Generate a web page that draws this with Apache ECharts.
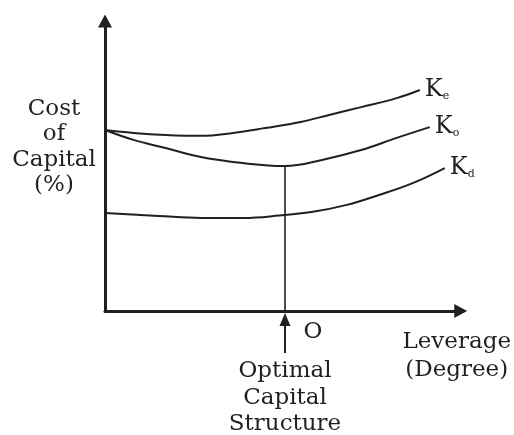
<!DOCTYPE html>
<html>
<head>
<meta charset="utf-8">
<script src="https://cdn.jsdelivr.net/npm/echarts@6/dist/echarts.min.js"></script>
<style>
  html, body { margin: 0; padding: 0; background: #fff; }
  #chart { width: 514px; height: 435px; }
</style>
</head>
<body>
<div id="chart"></div>
<script>
// schematic units: leverage 0-100, cost of capital 0-100
var keLeverage = [0, 8, 17, 27, 36, 45, 55, 63, 72, 82, 88.5];
var keCost = [62.4, 61.4, 60.7, 60.4, 61.4, 63.1, 65.2, 67.6, 70.3, 73.4, 76.2];

var koLeverage = [0, 8, 17, 27, 36, 45, 50.6, 61, 72, 82, 91.3];
var koCost = [62.4, 59, 56.2, 53.1, 51.4, 50.3, 50, 52.1, 55.5, 59.7, 63.4];

var kdLeverage = [0, 15, 27, 39, 49, 58, 68, 77, 86.5, 95.5];
var kdCost = [33.8, 32.8, 32.1, 32.1, 32.9, 34.1, 36.6, 40, 44.1, 49.3];

var optimalLeverage = 50.6;
var optimalCost = 50;

var ink = "#231f20";
var font = "DejaVu Serif";

function pairs(xs, ys) {
  return xs.map(function(x, i) {
    return [x, ys[i]];
  });
}

function curve(name, sub, xs, ys) {
  return {
    name: name,
    type: "line",
    data: pairs(xs, ys),
    smooth: 0.4,
    symbol: "none",
    lineStyle: { color: ink, width: 2 },
    endLabel: {
      show: true,
      distance: 5,
      formatter: "{k|K}{s|" + sub + "}",
      rich: {
        k: { fontFamily: font, fontSize: 24, lineHeight: 24, verticalAlign: "top", color: ink },
        s: { fontFamily: font, fontSize: 11, lineHeight: 10, padding: [19, 0, 0, 0], verticalAlign: "bottom", color: ink }
      }
    }
  };
}

var chart = echarts.init(document.getElementById("chart"));

var axisBase = {
  type: "value",
  min: 0,
  max: 100,
  axisLine: {
    show: true,
    symbol: ["none", "triangle"],
    symbolSize: [14, 13],
    lineStyle: { color: ink, width: 3 }
  },
  axisTick: { show: false },
  axisLabel: { show: false },
  splitLine: { show: false }
};

chart.setOption({
  animation: false,
  grid: { left: 105, right: 53, top: 21, bottom: 124 },
  xAxis: Object.assign({}, axisBase, {
    name: "Leverage\n(Degree)",
    nameLocation: "end",
    nameGap: -4,
    nameTextStyle: {
      fontFamily: font, fontSize: 23, lineHeight: 28, color: ink,
      align: "center", verticalAlign: "top", padding: [17, 0, 0, 0]
    }
  }),
  yAxis: axisBase,
  series: [
    curve("Ke", "e", keLeverage, keCost),
    curve("Ko", "o", koLeverage, koCost),
    curve("Kd", "d", kdLeverage, kdCost),
    {
      name: "Optimal",
      type: "line",
      data: [[optimalLeverage, 0], [optimalLeverage, optimalCost]],
      symbol: "none",
      lineStyle: { color: ink, width: 1.6 }
    }
  ]
});

// y-axis title and the annotation under the optimal point
var p = chart.convertToPixel({ gridIndex: 0 }, [optimalLeverage, 0]);
chart.setOption({
  graphic: [
    {
      type: "text",
      x: 54,
      y: 96,
      style: {
        text: "Cost\nof\nCapital\n(%)",
        font: "23px '" + font + "'", lineHeight: 25.5, fill: ink,
        align: "center", verticalAlign: "top"
      }
    },
    {
      type: "polygon",
      shape: { points: [[p[0], p[1] + 2], [p[0] - 5.5, p[1] + 15], [p[0] + 5.5, p[1] + 15]] },
      style: { fill: ink }
    },
    {
      type: "line",
      shape: { x1: p[0], y1: p[1] + 14, x2: p[0], y2: p[1] + 42 },
      style: { stroke: ink, lineWidth: 2 }
    },
    {
      type: "text",
      x: p[0] + 28,
      y: p[1] + 21,
      style: { text: "O", font: "23px '" + font + "'", fill: ink, align: "center", verticalAlign: "middle" }
    },
    {
      type: "text",
      x: p[0],
      y: p[1] + 47,
      style: {
        text: "Optimal\nCapital\nStructure",
        font: "23px '" + font + "'", lineHeight: 26.5, fill: ink,
        align: "center", verticalAlign: "top"
      }
    }
  ]
});
</script>
</body>
</html>
